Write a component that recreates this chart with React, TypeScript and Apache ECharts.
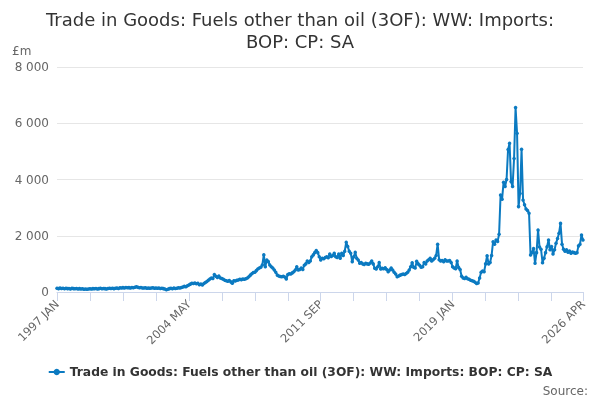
import React, { useEffect, useRef } from "react";
import * as echarts from "echarts";

const MONTHS = ["JAN", "FEB", "MAR", "APR", "MAY", "JUN", "JUL", "AUG", "SEP", "OCT", "NOV", "DEC"];
const categories: string[] = [];
for (let y = 1997; y <= 2026; y++) {
  for (let m = 0; m < 12; m++) {
    if (y === 2026 && m > 3) break;
    categories.push(`${y} ${MONTHS[m]}`);
  }
}

const values1997_2001 = [
  130, 120, 140, 125, 130, 115, 135, 120, 125, 110, 130, 120,
  115, 125, 110, 120, 105, 115, 100, 110, 95, 105, 115, 110,
  120, 115, 125, 110, 120, 130, 115, 125, 120, 110, 125, 130,
  125, 135, 120, 130, 140, 125, 150, 140, 155, 145, 160, 150,
  155, 145, 160, 150, 170, 190, 165, 150, 160, 145, 140, 150,
];
const values2002_2006 = [
  135, 145, 130, 140, 150, 135, 145, 130, 140, 125, 135, 120,
  110, 80, 100, 120, 130, 115, 140, 125, 135, 150, 140, 160,
  180, 200, 185, 220, 250, 280, 310, 300, 320, 290, 310, 260,
  280, 250, 300, 340, 370, 420, 460, 500, 480, 620, 560, 520,
  570, 500, 480, 450, 420, 400, 380, 410, 360, 310, 400, 390,
];
const values2007_2011 = [
  420, 430, 450, 440, 460, 450, 470, 500, 540, 600, 650, 690,
  700, 760, 820, 850, 880, 960, 1320, 900, 1140, 1080, 960, 900,
  850, 780, 700, 600, 570, 550, 540, 560, 530, 460, 620, 650,
  640, 680, 720, 780, 900, 780, 800, 850, 800, 950, 1000, 1100,
  1050, 1100, 1250, 1320, 1400, 1475, 1400, 1250, 1140, 1200, 1180, 1230,
];
const values2012_2016 = [
  1250, 1220, 1350, 1260, 1300, 1380, 1250, 1230, 1350, 1200, 1380, 1300,
  1450, 1770, 1620, 1450, 1380, 1080, 1250, 1415, 1200, 1140, 1020, 1050,
  1000, 980, 1020, 1000, 990, 1030, 1100, 1000, 845, 820, 900, 1045,
  820, 840, 830, 860, 800, 720, 780, 850, 780, 700, 640, 545,
  570, 600, 620, 640, 620, 660, 700, 780, 900, 1040, 880, 850,
];
const values2017_2021 = [
  1090, 1000, 950, 880, 900, 1050, 1000, 1100, 1150, 1200, 1100, 1150,
  1200, 1300, 1700, 1150, 1100, 1120, 1080, 1150, 1100, 1100, 1120, 1050,
  900, 850, 830, 1100, 870, 800, 560, 500, 480, 520, 470, 450,
  420, 400, 380, 350, 300, 320, 500, 700, 750, 720, 1000, 1290,
  1000, 1050, 1300, 1790, 1700, 1850, 1800, 2050, 3450, 3300, 3900, 3750,
];
const values2022_2026 = [
  4000, 5070, 5290, 3925, 3750, 4750, 6560, 5645, 3036, 3500, 5075, 3270,
  3100, 2950, 2900, 2800, 1316, 1400, 1550, 1020, 1400, 2200, 1600, 1520,
  1040, 1200, 1400, 1610, 1850, 1500, 1620, 1350, 1500, 1730, 1900, 2090,
  2440, 1700, 1520, 1450, 1500, 1410, 1460, 1380, 1420, 1400, 1380, 1400,
  1640, 1700, 2030, 1850,
];
const seriesValues = [
  ...values1997_2001,
  ...values2002_2006,
  ...values2007_2011,
  ...values2012_2016,
  ...values2017_2021,
  ...values2022_2026,
];

const labelIndexes = [0, 88, 176, 264, 351];
const yTicks = [0, 2000, 4000, 6000, 8000];

const TITLE = "Trade in Goods: Fuels other than oil (3OF): WW: Imports:\nBOP: CP: SA";
const SERIES_NAME = "Trade in Goods: Fuels other than oil (3OF): WW: Imports: BOP: CP: SA";
const FONT = "DejaVu Sans";
const BLUE = "#0b7ac1";

export default function App() {
  const ref = useRef<HTMLDivElement>(null);
  useEffect(() => {
    if (!ref.current) return;
    const chart = echarts.init(ref.current, undefined, { renderer: "svg" });
    chart.setOption({
      animation: false,
      textStyle: { fontFamily: FONT },
      title: {
        text: TITLE,
        left: "center",
        top: 3,
        textStyle: { fontFamily: FONT, fontSize: 18, fontWeight: "normal", color: "#333", lineHeight: 22 },
      },
      grid: { left: 57, right: 17, top: 67, bottom: 108, containLabel: false },
      legend: {
        bottom: 17,
        left: "center",
        itemWidth: 16,
        itemHeight: 8,
        itemGap: 5,
        textStyle: { fontFamily: FONT, fontSize: 12.3, fontWeight: "bold", color: "#333" },
        data: [SERIES_NAME],
      },
      graphic: [
        {
          type: "text",
          right: 12,
          bottom: 3,
          style: { text: "Source:", fontFamily: FONT, fontSize: 12, fill: "#666" },
        },
      ],
      xAxis: {
        type: "category",
        data: categories,
        boundaryGap: false,
        axisLine: { lineStyle: { color: "#ccd6eb" } },
        axisTick: {
          show: true,
          length: 9,
          lineStyle: { color: "#ccd6eb" },
          interval: (i: number) => i % 22 === 0 || i === categories.length - 1,
        },
        axisLabel: {
          rotate: 45,
          color: "#666",
          fontSize: 11.5,
          fontFamily: FONT,
          margin: 10,
          interval: (i: number) => labelIndexes.includes(i),
        },
      },
      yAxis: {
        type: "value",
        min: yTicks[0],
        max: yTicks[yTicks.length - 1],
        interval: 2000,
        name: "£m",
        nameLocation: "end",
        nameGap: 10,
        nameTextStyle: { color: "#666", fontSize: 12, fontFamily: FONT, align: "left", padding: [0, 0, 0, -45] },
        axisLine: { show: false },
        axisTick: { show: false },
        splitLine: { lineStyle: { color: "#e6e6e6" } },
        axisLabel: {
          color: "#666",
          fontSize: 12,
          fontFamily: FONT,
          margin: 8,
          formatter: (v: number) => String(v).replace(/\B(?=(\d{3})+(?!\d))/g, " "),
        },
      },
      series: [
        {
          name: SERIES_NAME,
          type: "line",
          data: seriesValues,
          showSymbol: true,
          showAllSymbol: true,
          symbol: "circle",
          symbolSize: 3.5,
          itemStyle: { color: BLUE },
          lineStyle: { color: BLUE, width: 2 },
        },
      ],
    });
    return () => chart.dispose();
  }, []);
  return <div ref={ref} style={{ position: "fixed", left: 0, top: 0, width: 600, height: 400 }} />;
}
